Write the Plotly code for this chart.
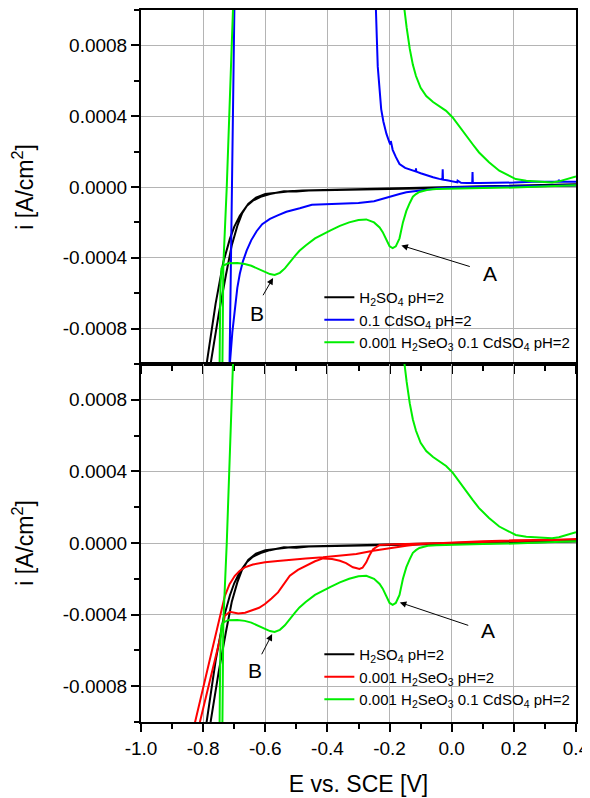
import plotly.graph_objects as go
from plotly.subplots import make_subplots

# ---------------- data ----------------
# H2SO4 pH=2 (black) - cyclic scan
E_H2SO4 = [0.40, 0.30, 0.20, 0.10, 0.00, -0.10, -0.20, -0.30, -0.40, -0.46, -0.50, -0.54, -0.585,
           -0.615, -0.64, -0.66, -0.682, -0.70, -0.714, -0.735, -0.76, -0.789, -0.81,
           -0.776, -0.75, -0.727, -0.708, -0.69, -0.675, -0.655, -0.63, -0.60, -0.56, -0.52,
           -0.48, -0.40, -0.30, -0.20, -0.10, 0.00, 0.10, 0.20, 0.30, 0.40]
I_H2SO4 = [0.000008, 0.000005, 0.000002, -0.000001, -0.000004, -0.000007, -0.00001, -0.000013,
           -0.000017, -0.00002, -0.000026, -0.000024, -0.00004, -0.000056, -0.000077, -0.000108,
           -0.000162, -0.000225, -0.000293, -0.000424, -0.00066, -0.001, -0.00125,
           -0.001, -0.00072, -0.0005, -0.00033, -0.00022, -0.00015, -0.000095, -0.00006, -0.00004,
           -0.00003, -0.000024, -0.00002, -0.000016, -0.000012, -0.000008, -0.000004, 0.0,
           0.000004, 0.000008, 0.000012, 0.000016]

# 0.1 CdSO4 pH=2 (blue)
E_CDSO4 = [0.40, 0.30, 0.20, 0.10, 0.00, -0.05, -0.10, -0.146, -0.168, -0.20, -0.25, -0.30, -0.35,
           -0.40, -0.45, -0.489, -0.532, -0.56, -0.585, -0.61, -0.628, -0.645, -0.66, -0.672,
           -0.682, -0.69, -0.698, -0.706, -0.714, -0.72,
           -0.718, -0.715, -0.700, -0.698,
           -0.2475, -0.245, -0.241, -0.238, -0.233, -0.227, -0.22, -0.21, -0.20, -0.197, -0.196,
           -0.19, -0.18, -0.168, -0.15, -0.13, -0.116, -0.115, -0.114, -0.10, -0.08, -0.06, -0.04,
           -0.03, -0.029, -0.028, -0.015, 0.0, 0.018, 0.019, 0.03, 0.05, 0.066, 0.067, 0.068,
           0.09, 0.12, 0.153, 0.20, 0.26, 0.30, 0.344, 0.345, 0.346, 0.37, 0.40]
I_CDSO4 = [0.00001, 0.000008, 0.000005, 0.000002, -0.000002, -0.000008, -0.00002, -0.00003,
           -0.00004, -0.000056, -0.00008, -0.00009, -0.000093, -0.000095, -0.0001, -0.00012,
           -0.00014, -0.00016, -0.00018, -0.00021, -0.00025, -0.0003, -0.00036, -0.00042,
           -0.00049, -0.00057, -0.00068, -0.00082, -0.001, -0.0012,
           -0.0012, -0.001, 0.001, 0.0012,
           0.0012, 0.001, 0.00084, 0.00068, 0.00055, 0.00044, 0.00037, 0.0003, 0.00025, 0.00024,
           0.00026, 0.00021, 0.00017, 0.00013, 0.000108, 0.000095, 0.000088, 0.000105, 0.000087,
           0.000078, 0.000065, 0.000055, 0.000046, 0.000042, 0.0001, 0.000041, 0.000038,
           0.000033, 0.000026, 0.000036, 0.000024, 0.000023, 0.000023, 0.000084, 0.000023,
           0.000023, 0.000023, 0.000023, 0.000025, 0.00003, 0.00003, 0.00003, 0.000042, 0.00003,
           0.00003, 0.00003]

# 0.001 H2SeO3 0.1 CdSO4 pH=2 (green)
E_SECD = [0.40, 0.30, 0.20, 0.10, 0.00, -0.05, -0.077, -0.093, -0.104, -0.115, -0.125, -0.135,
          -0.146, -0.157, -0.168, -0.18, -0.19, -0.20, -0.211, -0.222, -0.232, -0.25, -0.275,
          -0.30, -0.33, -0.36, -0.39, -0.414, -0.44, -0.47, -0.49, -0.505, -0.521, -0.537,
          -0.553, -0.57, -0.585, -0.60, -0.623, -0.645, -0.666, -0.69, -0.72, -0.736, -0.741,
          -0.744, -0.746, -0.748,
          -0.742, -0.738, -0.735, -0.724, -0.704, -0.702,
          -0.157, -0.152, -0.145, -0.135, -0.125, -0.115, -0.10, -0.082, -0.06, -0.04, -0.018,
          0.003, 0.025, 0.046, 0.068, 0.088, 0.12, 0.153, 0.185, 0.206, 0.24, 0.281, 0.323,
          0.345, 0.37, 0.389, 0.40]
I_SECD = [0.00001, 0.000002, -0.000003, -0.000006, -0.000009, -0.000012, -0.000016, -0.000022,
          -0.000028, -0.00004, -0.000055, -0.00009, -0.000135, -0.0002, -0.00029, -0.000335,
          -0.000345, -0.000335, -0.00029, -0.000255, -0.000229, -0.0002, -0.000183, -0.000186,
          -0.0002, -0.00022, -0.000245, -0.000267, -0.00029, -0.00033, -0.00036, -0.00039,
          -0.000425, -0.00046, -0.000485, -0.000497, -0.000492, -0.00048, -0.00046, -0.000445,
          -0.000435, -0.00043, -0.000431, -0.000445, -0.00046, -0.00055, -0.0008, -0.0012,
          -0.0012, -0.001, -0.00044, 0.0, 0.001, 0.0012,
          0.0012, 0.001, 0.0009, 0.00078, 0.00069, 0.000627, 0.00056, 0.000514, 0.00048,
          0.000458, 0.00043, 0.000393, 0.00034, 0.000289, 0.00024, 0.000195, 0.00014, 0.000092,
          0.000064, 0.000045, 0.000035, 0.00003, 0.000026, 0.000032, 0.000045, 0.000055, 0.00006]

# 0.001 H2SeO3 pH=2 (red)
E_SEO3 = [0.40, 0.30, 0.20, 0.10, 0.00, -0.10, -0.18, -0.232, -0.253, -0.265, -0.275, -0.287,
          -0.297, -0.308, -0.318, -0.34, -0.36, -0.385, -0.414, -0.44, -0.467, -0.495, -0.521,
          -0.545, -0.559, -0.58, -0.601, -0.62, -0.644, -0.665, -0.687, -0.714, -0.73, -0.746,
          -0.77, -0.79, -0.81, -0.83,
          -0.83, -0.826, -0.80, -0.775, -0.752, -0.74, -0.73, -0.715, -0.698, -0.682, -0.666,
          -0.64, -0.601, -0.56, -0.521, -0.47, -0.414, -0.36, -0.307, -0.253, -0.20, -0.146,
          -0.10, 0.00, 0.10, 0.20, 0.30, 0.40]
I_SEO3 = [0.00002, 0.000016, 0.000012, 0.000006, 0.0, -0.000004, -0.000007, -0.000011,
          -0.000034, -0.00007, -0.000108, -0.000138, -0.000145, -0.00014, -0.000136, -0.000112,
          -0.000099, -0.00009, -0.000086, -0.000102, -0.000127, -0.00015, -0.000183, -0.00024,
          -0.000276, -0.00031, -0.000341, -0.000362, -0.000379, -0.00039, -0.000394, -0.000384,
          -0.000407, -0.000537, -0.00071, -0.00086, -0.001, -0.00114,
          -0.00103, -0.001, -0.000805, -0.00062, -0.000444, -0.00037, -0.000295, -0.00023,
          -0.000183, -0.000155, -0.000136, -0.00012, -0.000108, -0.0001, -0.000093, -0.000087,
          -0.00008, -0.000071, -0.000062, -0.000043, -0.000028, -0.000015, -0.000006, 0.000004,
          0.00001, 0.000015, 0.000018, 0.00002]

X_TICKS = [-1.0, -0.8, -0.6, -0.4, -0.2, 0.0, 0.2, 0.4]
X_LABELS = ["-1.0", "-0.8", "-0.6", "-0.4", "-0.2", "0.0", "0.2", "0.4"]
Y_TICKS = [-0.0008, -0.0004, 0.0, 0.0004, 0.0008]
Y_LABELS = ["-0.0008", "-0.0004", "0.0000", "0.0004", "0.0008"]

NAME_H2SO4 = "H<sub>2</sub>SO<sub>4</sub> pH=2"
NAME_CDSO4 = "0.1 CdSO<sub>4</sub> pH=2"
NAME_SEO3 = "0.001 H<sub>2</sub>SeO<sub>3</sub> pH=2"
NAME_SECD = "0.001 H<sub>2</sub>SeO<sub>3</sub> 0.1 CdSO<sub>4</sub> pH=2"

BLACK, BLUE, RED, GREEN = "#000000", "#0000ff", "#ff0000", "#00ee00"

FONT = "Liberation Sans, Arial, sans-serif"

fig = make_subplots(rows=2, cols=1, shared_xaxes=True, vertical_spacing=0)

def add(E, I, name, color, row, legend):
    fig.add_trace(go.Scatter(x=E, y=I, mode="lines", name=name,
                             line=dict(color=color, width=2),
                             legend=legend, showlegend=True), row=row, col=1)

add(E_H2SO4, I_H2SO4, NAME_H2SO4, BLACK, 1, "legend")
add(E_CDSO4, I_CDSO4, NAME_CDSO4, BLUE, 1, "legend")
add(E_SECD, I_SECD, NAME_SECD, GREEN, 1, "legend")
add(E_H2SO4, I_H2SO4, NAME_H2SO4, BLACK, 2, "legend2")
add(E_SEO3, I_SEO3, NAME_SEO3, RED, 2, "legend2")
add(E_SECD, I_SECD, NAME_SECD, GREEN, 2, "legend2")

split = 358 / 712

axis_common = dict(
    showline=True, linecolor="black", linewidth=2, mirror=True,
    ticks="outside", ticklen=8, tickwidth=1.5, tickcolor="black",
    showgrid=True, gridcolor="#b4b4b4", gridwidth=1, zeroline=False, automargin=False,
    tickfont=dict(family=FONT, size=19, color="black"),
)

xaxis_common = dict(axis_common, range=[-1.0, 0.4], tickmode="array",
                    tickvals=X_TICKS, ticktext=X_LABELS,
                    minor=dict(tickmode="linear", tick0=-1.0, dtick=0.1, ticks="outside",
                               ticklen=5, tickwidth=1.5, tickcolor="black", showgrid=False))
yaxis_common = dict(axis_common, range=[-0.001, 0.001], tickmode="array",
                    tickvals=Y_TICKS, ticktext=Y_LABELS,
                    minor=dict(tickmode="linear", tick0=0.0, dtick=0.0002, ticks="outside",
                               ticklen=5, tickwidth=1.5, tickcolor="black", showgrid=False),
                    title=dict(text="i [A/cm<sup>2</sup>]", standoff=30,
                               font=dict(family=FONT, size=23, color="black")))

fig.update_xaxes(**xaxis_common)
fig.update_xaxes(showticklabels=False, row=1, col=1)
fig.update_xaxes(title=dict(text="E vs. SCE [V]", standoff=18,
                            font=dict(family=FONT, size=23, color="black")), row=2, col=1)
fig.update_yaxes(**yaxis_common)
fig.update_layout(yaxis=dict(domain=[split, 1.0]), yaxis2=dict(domain=[0.0, split]))

legend_common = dict(bgcolor="rgba(0,0,0,0)", borderwidth=0, xanchor="left", yanchor="top",
                     font=dict(family=FONT, size=15, color="black"), itemwidth=30,
                     tracegroupgap=0, traceorder="normal")

# page body adds an 8 px margin, so the figure is 8 px smaller on each side
fig.update_layout(
    width=582, height=790,
    margin=dict(l=133, r=14, t=2, b=76),
    paper_bgcolor="white", plot_bgcolor="white",
    font=dict(family=FONT, color="black"),
    legend=dict(legend_common, x=0.41, y=(722 - 281) / 712),
    legend2=dict(legend_common, x=0.41, y=(722 - 638) / 712),
)

# annotations: labels A and B with arrows
def arrow(xref, yref, hx, hy, tx, ty):
    fig.add_annotation(x=hx, y=hy, ax=tx, ay=ty, xref=xref, yref=yref, axref=xref, ayref=yref,
                       text="", showarrow=True, arrowhead=2, arrowsize=1.3, arrowwidth=1,
                       arrowcolor="black")

def label(xref, yref, x, y, t):
    fig.add_annotation(x=x, y=y, xref=xref, yref=yref, text=t, showarrow=False,
                       font=dict(family=FONT, size=21, color="black"))

arrow("x", "y", -0.162, -0.00033, 0.063, -0.000452)
label("x", "y", 0.122, -0.00049, "A")
arrow("x", "y", -0.575, -0.000514, -0.61, -0.00062)
label("x", "y", -0.628, -0.000715, "B")
arrow("x2", "y2", -0.167, -0.000332, 0.058, -0.000463)
label("x2", "y2", 0.116, -0.00049, "A")
arrow("x2", "y2", -0.578, -0.000509, -0.614, -0.00063)
label("x2", "y2", -0.633, -0.000714, "B")

fig.write_html("out.html")
